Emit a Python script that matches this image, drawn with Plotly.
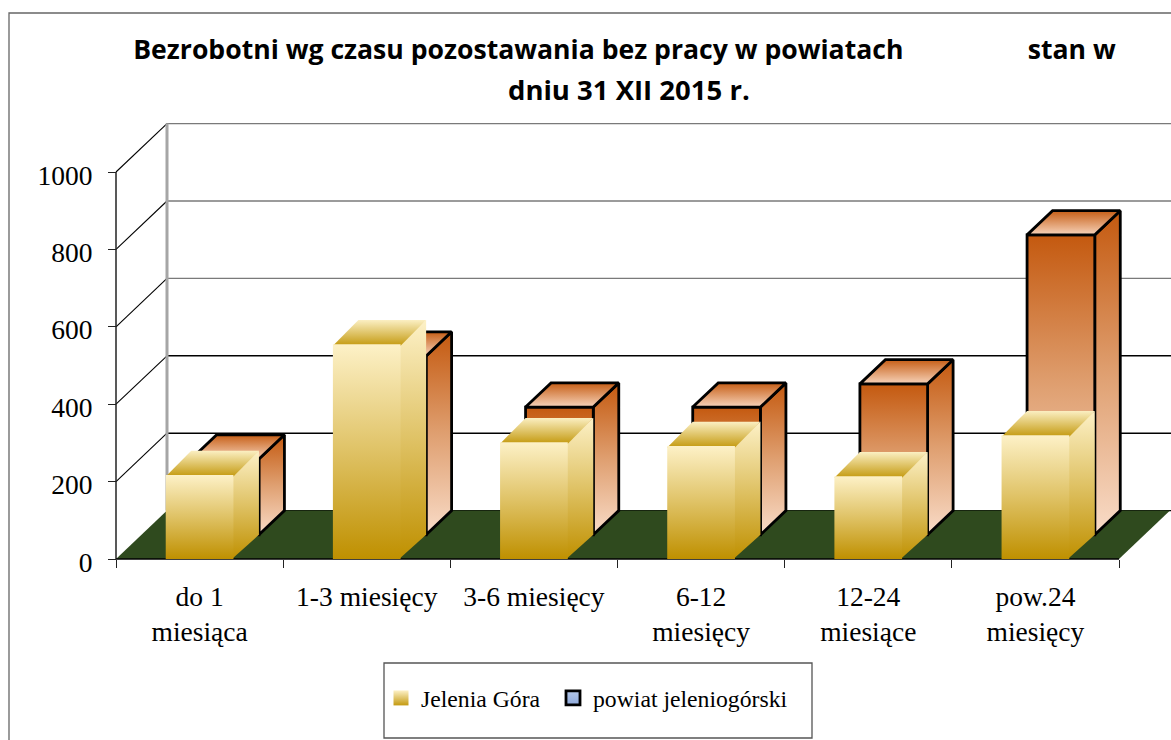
import plotly.graph_objects as go

categories = ["do 1<br>miesiąca", "1-3 miesięcy", "3-6 miesięcy", "6-12<br>miesięcy", "12-24<br>miesiące", "pow.24<br>miesięcy"]
jelenia_gora = [217, 555, 302, 292, 214, 320]
powiat_jeleniogorski = [196, 462, 330, 330, 390, 775]
y_ticks = [0, 200, 400, 600, 800, 1000]
title_line_1 = "Bezrobotni wg czasu pozostawania bez pracy w powiatach" + "\u00a0" * 18 + "stan w"
title_line_2 = "dniu 31 XII 2015 r."
series_names = ["Jelenia Góra", "powiat jeleniogórski"]

# page geometry (pixels)
W, H = 1171, 740
X0, X6 = 116, 1119
Y0, Y1000 = 559, 172
px_x = (X6 - X0) / 6
px_y = (Y0 - Y1000) / 1000
DX = 25.5 / px_x       # one depth unit along x (category units)
DY = 24.2 / px_y       # one depth unit along y (value units)
BAR = 0.405
x_range = [-X0 / px_x, (W - X0) / px_x]
y_range = [(Y0 - H) / px_y, Y0 / px_y]
SEAM_X = 1.5 / px_x    # faces tuck under the front face to hide antialiasing seams
SEAM_Y = 1.5 / px_y

GOLD = [[0, "#BF9000"], [0.5, "#DFC265"], [1, "#FDF1C7"]]
GOLD_TOP = [[0, "#C49A10"], [1, "#FBEFC2"]]
RUST = [[0, "#F9DCC8"], [0.5, "#DF9F70"], [1, "#C4590F"]]
RUST_TOP = [[0, "#F7D3BA"], [1, "#C65E16"]]


def poly(xs, ys, scale=None, flat=None, line=None, width=0):
    kw = dict(x=xs + xs[:1], y=ys + ys[:1], mode="lines" if line else "none", fill="toself",
              hoverinfo="skip", showlegend=False, line=dict(color=line or "rgba(0,0,0,0)", width=width))
    if scale:
        kw["fillgradient"] = dict(type="vertical", colorscale=scale, start=min(ys), stop=max(ys))
    else:
        kw["fillcolor"] = flat
    return go.Scatter(**kw)


def seg(xs, ys, color="#000000", width=1.2):
    return go.Scatter(x=xs, y=ys, mode="lines", line=dict(color=color, width=width),
                      hoverinfo="skip", showlegend=False)


def bar(center, value, depth, face, top, line=None, width=0):
    l = center - BAR / 2 + depth * DX
    r = center + BAR / 2 + depth * DX
    b = depth * DY
    t = value + b
    ex = 0 if line else SEAM_X
    ey = 0 if line else SEAM_Y
    side = poly([r - ex, r + DX, r + DX, r - ex], [b, b + DY, t + DY, t], scale=face, line=line, width=width)
    cap = poly([l, r, r + DX, l + DX], [t - ey, t - ey, t + DY, t + DY], scale=top, line=line, width=width)
    front = poly([l, r, r, l], [b, b, t, t], scale=face, line=line, width=width)
    return [side, cap, front] if not line else [side, front, cap]


traces = []
# walls
for v in y_ticks:
    traces.append(seg([2 * DX, x_range[1]], [v + 2 * DY] * 2, "#000000" if v < 600 else "#7A7A7A", 1.4))
    if v:
        traces.append(seg([0, 2 * DX], [v, v + 2 * DY], "#000000", 1.1))
traces.append(seg([2 * DX, 2 * DX], [2 * DY, 1000 + 2 * DY], "#A6A6A6", 3))
# floor
traces.append(poly([0, 6, 6 + 2 * DX, 2 * DX], [0, 0, 2 * DY, 2 * DY], flat="#2F4A1E"))
traces.append(seg([0, 0], [0, 1000], "#222222", 1.5))
traces.append(seg([0, 6], [0, 0], "#000000", 1.5))

# bars
for b_val, i in zip(powiat_jeleniogorski, range(6)):
    traces += bar(i + 0.5, b_val, 1, RUST, RUST_TOP, line="#000000", width=2.8)
for a_val, i in zip(jelenia_gora, range(6)):
    traces += bar(i + 0.5, a_val, 0, GOLD, GOLD_TOP)

# legend entries
traces.append(go.Scatter(x=[None], y=[None], mode="markers", name=series_names[0], showlegend=True,
                         legendwidth=127,
                         marker=dict(symbol="square", size=15, color="#FDF1C7", line=dict(width=0),
                                     gradient=dict(type="vertical", color="#C49A10"))))
traces.append(go.Scatter(x=[None], y=[None], mode="markers", name=series_names[1], showlegend=True,
                         marker=dict(symbol="square", size=14, color="#B4C7E7", line=dict(width=2.8, color="#000000"),
                                     gradient=dict(type="vertical", color="#8FAADC"))))

fig = go.Figure(traces)
fig.update_layout(
    width=W, height=H, autosize=False,
    margin=dict(l=0, r=0, t=0, b=0),
    paper_bgcolor="white", plot_bgcolor="white",
    font=dict(family="Liberation Serif", color="#000000"),
    title=dict(text=title_line_1, x=624.5 / W, xanchor="center", y=1 - 50 / H, yanchor="middle",
               font=dict(family="Open Sans", size=26.6, color="#000000", weight="bold")),
    annotations=[dict(text=title_line_2, xref="paper", yref="paper", x=629 / W, y=1 - 90 / H,
                      xanchor="center", yanchor="middle", showarrow=False,
                      font=dict(family="Open Sans", size=27.5, color="#000000", weight="bold"))],
    xaxis=dict(range=x_range, domain=[0, 1], anchor="free", position=(H - Y0) / H, showgrid=False, zeroline=False,
               tickmode="array", tickvals=[i + 0.5 for i in range(6)], ticktext=categories,
               ticks="", tickfont=dict(size=27.5), ticklabelstandoff=18, tickangle=0,
               minor=dict(tickmode="array", tickvals=list(range(7)), ticks="outside", ticklen=8,
                          tickcolor="#222222", tickwidth=1.2, showgrid=False)),
    yaxis=dict(range=y_range, domain=[0, 1], anchor="free", position=X0 / W, showgrid=False, zeroline=False,
               tickmode="array", tickvals=y_ticks, ticks="outside", ticklen=8, tickcolor="#222222", tickwidth=1.2,
               tickfont=dict(size=27.5), ticklabelstandoff=10, ticklabelshift=3),
    shapes=[
        dict(type="rect", xref="paper", yref="paper", x0=384 / W, x1=812 / W, y0=1 - 738 / H, y1=1 - 663 / H,
             line=dict(color="#555555", width=1.3), fillcolor="white"),
        dict(type="path", xref="paper", yref="paper",
             path=f"M {9 / W} 0 L {9 / W} {1 - 13 / H} L 1 {1 - 13 / H}", line=dict(color="#666666", width=1.3)),
    ],
    legend=dict(orientation="h", x=381 / W, y=1 - 698 / H, xanchor="left", yanchor="middle",
                bgcolor="rgba(0,0,0,0)", font=dict(size=23.7), itemwidth=30, tracegroupgap=0),
)
fig.write_html("out.html", config={"displayModeBar": False},
               post_script="document.body.style.margin='0';document.body.style.overflow='hidden';")
